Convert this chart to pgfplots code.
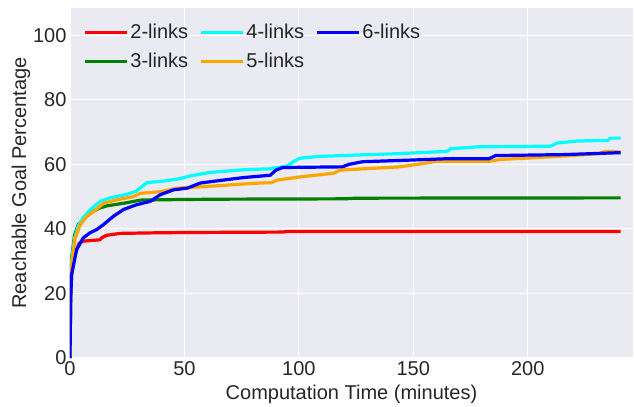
\documentclass[border=0pt]{standalone}
\usepackage{pgfplots}
\pgfplotsset{compat=1.18}
\usepackage{fontspec}
\setmainfont{Liberation Sans}
\definecolor{bgc}{HTML}{EAEAF2}
\definecolor{txt}{HTML}{262626}
\definecolor{mred}{rgb}{1,0,0}
\definecolor{mblue}{rgb}{0,0,1}
\definecolor{mcyan}{rgb}{0,1,1}
\definecolor{mgreen}{rgb}{0,0.5,0}
\definecolor{morange}{rgb}{1,0.647,0}
\begin{document}
\begin{tikzpicture}
\begin{axis}[
 scale only axis, width=563pt, height=350pt,
 xmin=0, xmax=246, ymin=0, ymax=108.4,
 axis background/.style={fill=bgc},
 axis line style={draw=none},
 grid=major, major grid style={white, line width=1.2pt},
 major tick length=0pt,
 xtick={0,50,...,200}, ytick={0,20,...,100},
 ticklabel style={font=\fontsize{20}{24}\selectfont, text=txt},
 /pgf/number format/assume math mode=true,
 xlabel={Computation Time (minutes)}, ylabel={Reachable Goal Percentage},
 label style={font=\fontsize{20}{24}\selectfont, text=txt},
 xlabel style={yshift=-2pt},
 ylabel style={yshift=-4pt},
 legend columns=3,
 legend cell align=left,
 legend style={at={(axis description cs:0,1)}, anchor=north west, draw=none, fill=none,
   font=\fontsize{20}{24}\selectfont, text=txt, xshift=10pt, yshift=-12pt,
   /tikz/every even column/.append style={column sep=9pt}, row sep=9pt},
 legend image code/.code={\draw[#1] (0pt,0pt) -- (42pt,0pt);},
 every axis plot/.append style={line width=3.2pt, line join=round},
]
\addplot[mred, forget plot] coordinates {(0,0)(0.3,20)(0.7,25.5)(1.5,30)(2.9,33.6)(4,35.5)(5.8,36.2)(13,36.6)(14,37.3)(16,38)(22,38.6)(40,38.8)(60,38.9)(93,39.0)(95,39.2)(240.6,39.2)};
\addplot[mgreen, forget plot] coordinates {(0,0)(0.3,22)(0.7,31)(2,38)(3.7,41.4)(5.8,42.9)(8.8,45)(13.2,46.5)(16,47.1)(24.9,48.1)(30.7,48.9)(50,49.1)(70,49.2)(120,49.3)(125,49.5)(240.6,49.6)};
\addplot[mcyan, forget plot] coordinates {(0,0)(0.3,22)(0.7,30)(2,37)(3.7,41)(5.8,43.5)(8.8,45.9)(13.2,48.5)(17.5,49.6)(24.9,50.7)(29,51.7)(33.6,54.3)(41,54.8)(46.8,55.4)(52.6,56.4)(61.4,57.5)(76,58.3)(87.5,58.6)(95,59.5)(98,61)(100.6,61.9)(108,62.4)(122.5,62.8)(140,63.2)(150,63.5)(164.8,64.0)(166.3,64.8)(178,65.4)(210,65.6)(212.9,66.6)(221.6,67.2)(234.8,67.4)(236.2,68.1)(240.6,68.1)};
\addplot[morange, forget plot] coordinates {(0,0)(0.3,20)(0.7,28.9)(2.2,37)(4.4,41.2)(7.3,43.8)(10.2,45.3)(14.6,47.9)(20.5,49)(27.8,50)(30.7,51)(39.5,51.5)(46.8,52.6)(61.4,53.2)(76,53.9)(83.3,54.2)(88,54.3)(90.5,55.1)(100.6,56.1)(115,57.2)(118,58.2)(144,59.2)(154,60.2)(160,60.9)(183,60.9)(188,61.5)(202,62)(217,62.6)(231,63.3)(234,64)(240.6,63.8)};
\addplot[mblue, forget plot] coordinates {(0,0)(0.3,18)(0.7,25.8)(2.9,33.6)(5.8,37.2)(8.8,38.8)(11.7,39.8)(14.6,41.3)(19,43.9)(23.4,46)(29.2,47.5)(35,48.5)(39.5,50.6)(45.3,52.1)(51.2,52.6)(57,54.2)(65.8,55)(76,55.9)(87.5,56.6)(90,58.2)(93,59.0)(119,59.2)(122,60.0)(128,60.8)(149,61.3)(164,61.7)(183,61.7)(186,62.7)(216,63.0)(240.6,63.6)};
\addlegendimage{mred, line width=3.2pt}\addlegendentry{2-links}
\addlegendimage{mcyan, line width=3.2pt}\addlegendentry{4-links}
\addlegendimage{mblue, line width=3.2pt}\addlegendentry{6-links}
\addlegendimage{mgreen, line width=3.2pt}\addlegendentry{3-links}
\addlegendimage{morange, line width=3.2pt}\addlegendentry{5-links}
\end{axis}
\path ([xshift=-70pt,yshift=-45pt]current axis.south west) rectangle ([xshift=1pt,yshift=8pt]current axis.north east);
\end{tikzpicture}
\end{document}
